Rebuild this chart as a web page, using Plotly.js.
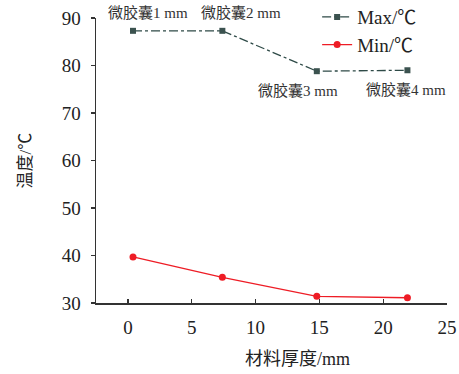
<!DOCTYPE html>
<html>
<head>
<meta charset="utf-8">
<script src="https://cdn.plot.ly/plotly-3.0.1.min.js"></script>
<style>
  html, body { margin: 0; padding: 0; background: #fff; }
  #chart { width: 459px; height: 374px; }
</style>
</head>
<body>
<div id="chart"></div>
<script>
// Thickness of each microcapsule layer (mm)
const thickness = [0.4, 7.4, 14.8, 21.9];
// Peak temperature for each sample (°C)
const maxTemp = [87.3, 87.3, 78.8, 79.0];
// Lowest temperature for each sample (°C)
const minTemp = [39.7, 35.4, 31.4, 31.1];
// Sample names shown next to the Max points
const sampleLabels = ['微胶囊1 mm', '微胶囊2 mm', '微胶囊3 mm', '微胶囊4 mm'];
const seriesNames = ['Max/℃', 'Min/℃'];
const xTitle = '材料厚度/mm';
const yTitle = '温度/℃';
const xTicks = [0, 5, 10, 15, 20, 25];
const yTicks = [30, 40, 50, 60, 70, 80, 90];

const FONT = 'Liberation Serif, Times New Roman, Noto Sans CJK SC, serif';
const AXIS = '#333333';

const traces = [
  {
    x: thickness, y: maxTemp, name: seriesNames[0],
    type: 'scatter', mode: 'lines+markers',
    line: { color: '#2e4a47', width: 1.3, dash: 'dashdot' },
    marker: { symbol: 'square', size: 6, color: '#3b524f' }
  },
  {
    x: thickness, y: minTemp, name: seriesNames[1],
    type: 'scatter', mode: 'lines+markers',
    line: { color: '#ee1c25', width: 1.3 },
    marker: { symbol: 'circle', size: 7, color: '#ee1c25' }
  }
];

// Labels above the first two points, below the last two (pixel offsets)
const labelOffsets = [
  { ax: 15, ay: -18 },
  { ax: 19, ay: -18 },
  { ax: -19, ay: 20 },
  { ax: -1, ay: 20 }
];
const annotations = sampleLabels.map((t, i) => ({
  x: thickness[i], y: maxTemp[i], xref: 'x', yref: 'y',
  text: t, showarrow: true, arrowwidth: 0.1, arrowcolor: 'rgba(0,0,0,0)',
  ax: labelOffsets[i].ax, ay: labelOffsets[i].ay,
  font: { family: FONT, size: 15, color: '#333' }
}));
// x-axis title, set right of the axis centre
annotations.push({
  x: 0.575, y: -0.195, xref: 'paper', yref: 'paper',
  xanchor: 'center', yanchor: 'middle',
  text: xTitle, showarrow: false,
  font: { family: FONT, size: 18, color: '#222' }
});

const layout = {
  width: 459, height: 374,
  margin: { l: 96, r: 12, t: 18, b: 71, autoexpand: false },
  paper_bgcolor: '#fff', plot_bgcolor: '#fff',
  font: { family: FONT, color: '#222' },
  showlegend: true,
  legend: {
    x: 0.63, y: 1.07, xanchor: 'left', yanchor: 'top',
    bgcolor: 'rgba(0,0,0,0)', borderwidth: 0,
    font: { family: FONT, size: 19, color: '#222' },
    tracegroupgap: 0, itemwidth: 30
  },
  xaxis: {
    range: [-2.5, 25], tickvals: xTicks,
    showgrid: false, zeroline: false,
    showline: true, linecolor: AXIS, linewidth: 1.5,
    ticks: 'inside', ticklen: 4, tickwidth: 1.2, tickcolor: AXIS,
    ticklabelstandoff: 7,
    tickfont: { family: FONT, size: 19, color: '#222' }
  },
  yaxis: {
    range: [30, 90], tickvals: yTicks,
    showgrid: false, zeroline: false,
    showline: true, linecolor: AXIS, linewidth: 1.5,
    ticks: 'outside', ticklen: 4, tickwidth: 1.2, tickcolor: AXIS,
    ticklabelstandoff: 6,
    tickfont: { family: FONT, size: 19, color: '#222' },
    title: { text: yTitle, standoff: 26, font: { family: FONT, size: 17, color: '#222' } }
  },
  annotations: annotations
};

Plotly.newPlot('chart', traces, layout, { displayModeBar: false, staticPlot: true });
</script>
</body>
</html>
